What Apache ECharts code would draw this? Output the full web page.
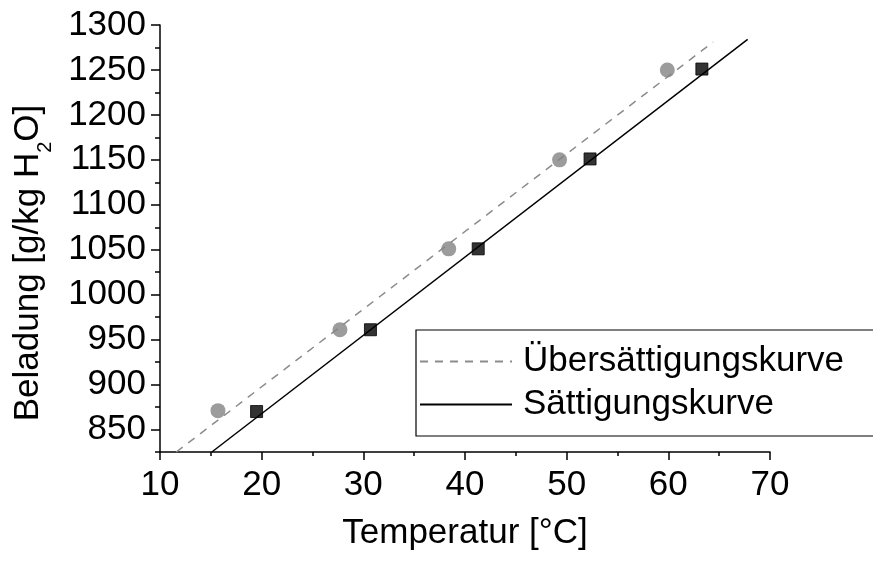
<!DOCTYPE html>
<html>
<head>
<meta charset="utf-8">
<script src="https://cdn.jsdelivr.net/npm/echarts@6/dist/echarts.min.js"></script>
<style>
  html, body { margin: 0; padding: 0; background: #fff; }
  #chart { width: 873px; height: 562px; }
</style>
</head>
<body>
<div id="chart"></div>
<script>
// Measured loading (g per kg water) against temperature
const superTemp = [15.7, 27.7, 38.4, 49.3, 59.9];
const superLoad = [871, 961, 1051, 1150, 1250];
const satTemp = [19.5, 30.7, 41.3, 52.3, 63.3];
const satLoad = [870, 961, 1051, 1151, 1251];

// Fitted curves (start and end points)
const superCurveTemp = [11.6, 64.4];
const superCurveLoad = [825, 1281];
const satCurveTemp = [15.1, 67.8];
const satCurveLoad = [825, 1284];

// Axis ticks
const xMin = 10, xMax = 70, xStep = 10;
const yMin = 825, yMax = 1300;
const yTickLabels = [850, 900, 950, 1000, 1050, 1100, 1150, 1200, 1250, 1300];
const yMinorTicks = [825, 875, 925, 975, 1025, 1075, 1125, 1175, 1225, 1275];

const seriesNames = ['Übersättigungskurve', 'Sättigungskurve'];

const FONT = 'Liberation Sans, Arial, Helvetica, sans-serif';
const pairs = (xs, ys) => xs.map((x, i) => [x, ys[i]]);

const chart = echarts.init(document.getElementById('chart'), null, { renderer: 'canvas' });

const axisLine = { show: true, lineStyle: { color: '#000', width: 1.5 } };

chart.setOption({
  animation: false,
  backgroundColor: '#fff',
  textStyle: { fontFamily: FONT },
  grid: { left: 160, top: 25, width: 610, height: 427, containLabel: false },
  xAxis: {
    type: 'value',
    min: xMin, max: xMax, interval: xStep,
    name: 'Temperatur [°C]',
    nameLocation: 'middle',
    nameGap: 64,
    nameTextStyle: { fontSize: 35, color: '#000', fontFamily: FONT },
    axisLine: axisLine,
    axisTick: { show: true, length: 8, lineStyle: { color: '#000', width: 1.5 } },
    minorTick: { show: true, splitNumber: 2, length: 4, lineStyle: { color: '#000', width: 1.5 } },
    axisLabel: { fontSize: 35, color: '#000', margin: 16, fontFamily: FONT },
    splitLine: { show: false }
  },
  yAxis: [
    {
      type: 'value',
      min: yMin, max: yMax,
      axisLine: axisLine,
      axisTick: { show: true, length: 9, customValues: yTickLabels, lineStyle: { color: '#000', width: 1.5 } },
      axisLabel: {
        fontSize: 35, color: '#000', margin: 14, customValues: yTickLabels, fontFamily: FONT,
        formatter: v => String(v)
      },
      splitLine: { show: false }
    },
    {
      type: 'value',
      min: yMin, max: yMax,
      position: 'left',
      axisLine: { show: false },
      axisTick: { show: true, length: 5, customValues: yMinorTicks, lineStyle: { color: '#000', width: 1.5 } },
      axisLabel: { show: false },
      splitLine: { show: false }
    }
  ],
  legend: {
    orient: 'vertical',
    left: 416, top: 330,
    padding: [14, 60, 14, 3],
    itemGap: 8,
    itemWidth: 92,
    itemHeight: 14,
    borderColor: '#000',
    borderWidth: 1.2,
    backgroundColor: '#fff',
    itemStyle: { opacity: 0 },
    textStyle: { fontSize: 35, color: '#000', fontFamily: FONT, padding: [0, 0, 0, 6] },
    data: seriesNames
  },
  graphic: [
    {
      type: 'text',
      x: 28, y: 263,
      rotation: Math.PI / 2,
      style: {
        text: '{a|Beladung [g/kg H}{s|2}{a|O]}',
        align: 'center',
        verticalAlign: 'middle',
        fill: '#000',
        rich: {
          a: { fontSize: 35, lineHeight: 35, fontFamily: FONT, fill: '#000' },
          s: { fontSize: 20, lineHeight: 20, fontFamily: FONT, fill: '#000', padding: [34, 0, 0, 0] }
        }
      }
    }
  ],
  series: [
    {
      name: seriesNames[0],
      type: 'line',
      data: pairs(superCurveTemp, superCurveLoad),
      symbol: 'none',
      lineStyle: { color: '#8c8c8c', width: 1.5, type: [8, 7] },
      itemStyle: { color: '#8c8c8c' },
      z: 2
    },
    {
      name: seriesNames[1],
      type: 'line',
      data: pairs(satCurveTemp, satCurveLoad),
      symbol: 'none',
      lineStyle: { color: '#000', width: 1.5 },
      itemStyle: { color: '#000' },
      z: 2
    },
    {
      name: 'superPoints',
      type: 'scatter',
      data: pairs(superTemp, superLoad),
      symbol: 'circle',
      symbolSize: 15,
      itemStyle: { color: '#838383' },
      z: 3
    },
    {
      name: 'satPoints',
      type: 'scatter',
      data: pairs(satTemp, satLoad),
      symbol: 'rect',
      symbolSize: 12,
      itemStyle: { color: '#000', borderColor: '#000', borderWidth: 1 },
      z: 3
    }
  ]
});
</script>
</body>
</html>
